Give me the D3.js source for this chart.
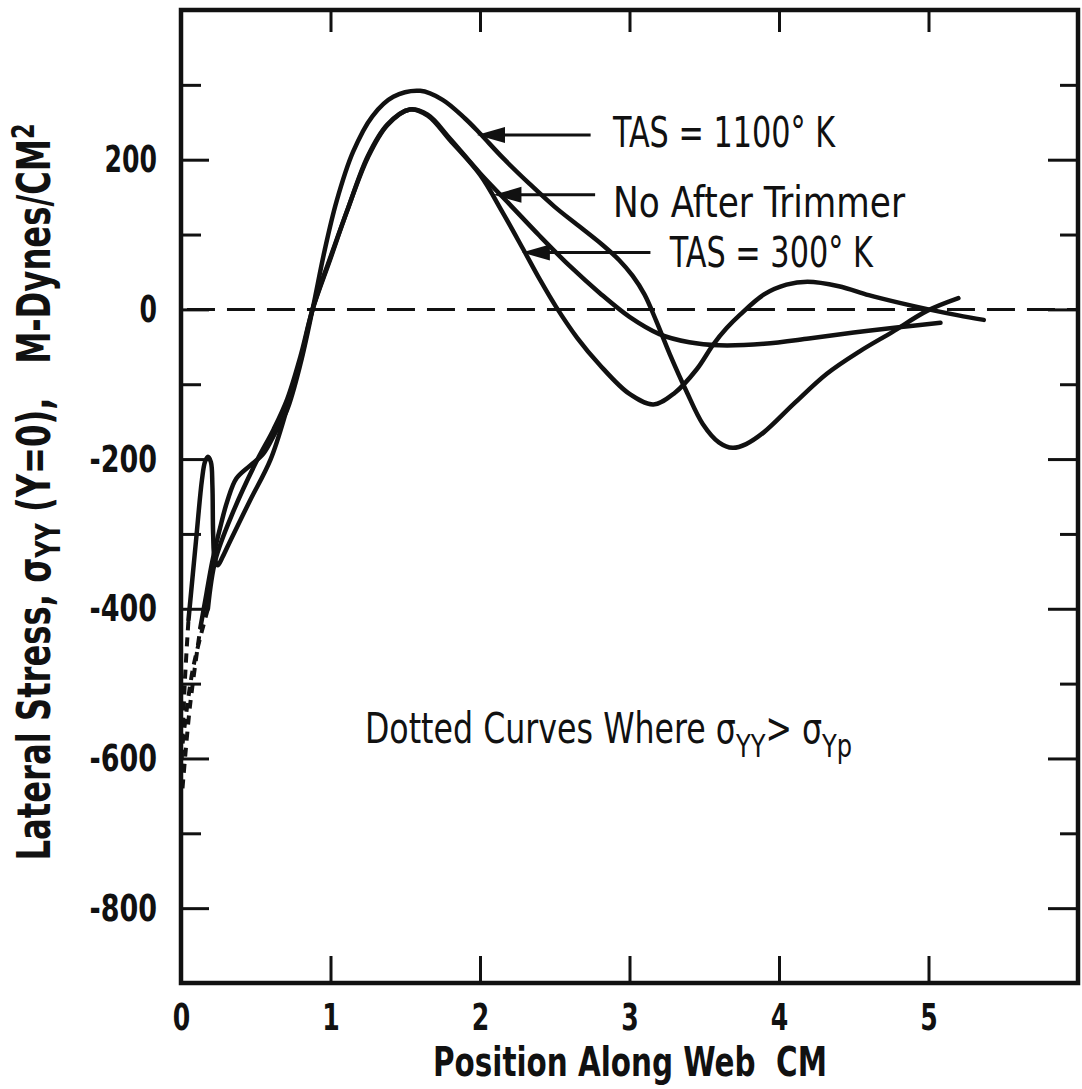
<!DOCTYPE html>
<html>
<head>
<meta charset="utf-8">
<script src="https://d3js.org/d3.v7.min.js"></script>
<style>
  body { margin: 0; background: #fff; }
  text { font-family: "Liberation Sans Narrow", "DejaVu Sans Condensed", "Roboto Condensed", sans-serif; font-stretch: condensed; fill: #111; }
</style>
</head>
<body>
<script>
// values (x in CM, y in M-Dynes/CM^2)
var xTicks = [0, 1, 2, 3, 4, 5];
var xMinorTop = [1, 2, 3, 4, 5];
var yMajor = [-800, -600, -400, -200, 0, 200];
var yMinor = [-700, -500, -300, -100, 100, 300];

var tas1100 = [[0.13,-425],[0.17,-380],[0.21,-336],[0.27,-285],[0.31,-256],[0.37,-226],[0.46,-209],[0.55,-193],[0.63,-165],[0.71,-134],[0.8,-72],[0.88,0],[0.96,78],[1.04,144],[1.15,210],[1.28,258],[1.42,284],[1.6,292],[1.75,280],[1.9,255],[2.0,235],[2.15,203],[2.33,168],[2.5,137],[2.67,110],[2.82,86],[2.93,66],[3.02,45],[3.1,20],[3.18,-16],[3.27,-60],[3.38,-109],[3.49,-153],[3.6,-178],[3.69,-185],[3.78,-180],[3.9,-164],[4.1,-126],[4.32,-86],[4.54,-56],[4.76,-30],[4.99,-2],[5.2,15]];
var tas1100Dot = [[0.01,-640],[0.06,-530],[0.13,-425]];

var noTrim = [[0.05,-415],[0.1,-310],[0.14,-228],[0.16,-204],[0.18,-197],[0.2,-204],[0.21,-235],[0.215,-300],[0.225,-333],[0.245,-342],[0.28,-330],[0.33,-309],[0.46,-256],[0.6,-200],[0.71,-132],[0.8,-68],[0.88,0],[1.0,70],[1.11,131],[1.25,205],[1.38,247],[1.53,267],[1.65,260],[1.8,228],[2.0,182],[2.2,140],[2.4,98],[2.6,58],[2.8,22],[3.0,-10],[3.2,-33],[3.4,-44],[3.6,-48],[3.9,-46],[4.2,-39],[4.5,-31],[4.8,-24],[5.08,-18]];
var noTrimDot = [[0.005,-600],[0.025,-500],[0.05,-415]];

var tas300 = [[0.18,-400],[0.23,-335],[0.35,-270],[0.5,-205],[0.62,-160],[0.71,-120],[0.8,-62],[0.88,0],[1.0,68],[1.11,131],[1.25,203],[1.38,246],[1.53,267],[1.65,259],[1.8,226],[2.0,180],[2.15,130],[2.29,80],[2.4,40],[2.51,3],[2.65,-38],[2.8,-74],[3.0,-113],[3.16,-127],[3.3,-112],[3.45,-80],[3.56,-47],[3.65,-25],[3.74,-7],[3.9,20],[4.05,33],[4.19,37],[4.4,31],[4.6,19],[4.8,9],[5.0,0],[5.2,-8],[5.37,-14]];
var tas300Dot = [[0.01,-580],[0.08,-480],[0.18,-400]];

// arrow labels: tip on the curve, tail, text position (data units)
var notes = [
  {label: "TAS = 1100° K", tip: [1.98, 233], tail: 2.74, tx: 2.89, ty: 217, len: 222},
  {label: "No After Trimmer", tip: [2.09, 153], tail: 2.77, tx: 2.89, ty: 124, len: 292},
  {label: "TAS = 300° K", tip: [2.28, 76], tail: 3.14, tx: 3.27, ty: 57, len: 203}
];

// "Dotted Curves Where ..." note: start, end (data x), baseline (data y), pieces (sub = subscript)
var dotStart = 1.23, dotEnd = 4.49, dotY = -579;
var dotParts = [
  {t: "Dotted Curves Where σ", sub: false},
  {t: "YY", sub: true},
  {t: "> σ", sub: false},
  {t: "Yp", sub: true}
];

var width = 1082, height = 1089;

var x = d3.scaleLinear().domain([0, 6]).range([181, 1078]);
var y = d3.scaleLinear().domain([-900, 400]).range([983, 10]);

var svg = d3.select("body").append("svg")
  .attr("width", width)
  .attr("height", height);

// zero line
svg.append("line")
  .attr("x1", x(0.04)).attr("x2", x(6))
  .attr("y1", y(0)).attr("y2", y(0))
  .attr("stroke", "#111").attr("stroke-width", 3)
  .attr("stroke-dasharray", "28,12");

// axes, ticks pointing inward
function styleAxis(g) {
  g.select(".domain").remove();
  g.selectAll(".tick line").attr("stroke", "#111").attr("stroke-width", 3);
  g.selectAll(".tick text")
    .attr("font-size", 38).attr("font-weight", "bold")
    .attr("lengthAdjust", "spacingAndGlyphs")
    .attr("textLength", function(d) {
      var s = String(d);
      return s.replace("-", "").length * 17.5 + (d < 0 ? 15 : 0);
    });
}
var plain = function(d) { return String(d); };

svg.append("g").attr("transform", "translate(" + x(0) + ",0)")
  .call(d3.axisLeft(y).tickValues(yMajor).tickSize(-28).tickPadding(24).tickFormat(plain))
  .call(styleAxis);
svg.append("g").attr("transform", "translate(" + x(0) + ",0)")
  .call(d3.axisLeft(y).tickValues(yMinor).tickSize(-20).tickFormat(""))
  .call(styleAxis);
svg.append("g").attr("transform", "translate(" + x(6) + ",0)")
  .call(d3.axisRight(y).tickValues(yMajor).tickSize(-30).tickFormat(""))
  .call(styleAxis);
svg.append("g").attr("transform", "translate(" + x(6) + ",0)")
  .call(d3.axisRight(y).tickValues(yMinor).tickSize(-18).tickFormat(""))
  .call(styleAxis);
svg.append("g").attr("transform", "translate(0," + y(-900) + ")")
  .call(d3.axisBottom(x).tickValues(xTicks).tickSize(-27).tickPadding(20).tickFormat(plain))
  .call(styleAxis);
svg.append("g").attr("transform", "translate(0," + y(400) + ")")
  .call(d3.axisTop(x).tickValues(xMinorTop).tickSize(-22).tickFormat(""))
  .call(styleAxis);

// frame
svg.append("rect")
  .attr("x", x(0)).attr("y", y(400))
  .attr("width", x(6) - x(0)).attr("height", y(-900) - y(400))
  .attr("fill", "none").attr("stroke", "#111").attr("stroke-width", 4.5);

var line = d3.line()
  .x(function(d) { return x(d[0]); })
  .y(function(d) { return y(d[1]); })
  .curve(d3.curveCatmullRom.alpha(0.5));

[tas1100, noTrim, tas300].forEach(function(s) {
  svg.append("path").attr("d", line(s))
    .attr("fill", "none").attr("stroke", "#111")
    .attr("stroke-width", 4.5).attr("stroke-linejoin", "round").attr("stroke-linecap", "round");
});
[tas1100Dot, noTrimDot, tas300Dot].forEach(function(s) {
  svg.append("path").attr("d", line(s))
    .attr("fill", "none").attr("stroke", "#111")
    .attr("stroke-width", 4).attr("stroke-dasharray", "9,7");
});

// arrows and labels
notes.forEach(function(n) {
  var tx = x(n.tip[0]), ty = y(n.tip[1]);
  svg.append("line")
    .attr("x1", tx + 20).attr("x2", x(n.tail))
    .attr("y1", ty).attr("y2", ty)
    .attr("stroke", "#111").attr("stroke-width", 3);
  svg.append("path")
    .attr("d", "M" + tx + "," + ty + "L" + (tx + 28) + "," + (ty - 8) + "L" + (tx + 28) + "," + (ty + 8) + "Z")
    .attr("fill", "#111");
  svg.append("text")
    .attr("x", x(n.tx)).attr("y", y(n.ty))
    .attr("font-size", 42)
    .attr("textLength", n.len).attr("lengthAdjust", "spacingAndGlyphs")
    .text(n.label);
});

// dotted curves note, one text with subscripts, squeezed with a scale
var dg = svg.append("g");
var dn = dg.append("text")
  .attr("x", 0).attr("y", 0)
  .attr("font-size", 42)
  .style("white-space", "pre");
var lowered = false;
dotParts.forEach(function(p) {
  var shift = 0;
  if (p.sub && !lowered) { shift = 14; lowered = true; }
  if (!p.sub && lowered) { shift = -14; lowered = false; }
  dn.append("tspan")
    .attr("dy", shift)
    .attr("font-size", p.sub ? 32 : 42)
    .text(p.t);
});
var natural = dn.node().getComputedTextLength() || 1;
var squeeze = (x(dotEnd) - x(dotStart)) / natural;
dg.attr("transform", "translate(" + x(dotStart) + "," + y(dotY) + ") scale(" + squeeze + ",1)");

// axis titles
svg.append("text")
  .attr("x", 630).attr("y", 1076)
  .attr("text-anchor", "middle")
  .attr("font-size", 40).attr("font-weight", "bold")
  .attr("textLength", 394).attr("lengthAdjust", "spacingAndGlyphs")
  .style("white-space", "pre")
  .text("Position Along Web  CM");

var yt = svg.append("text")
  .attr("transform", "translate(50,492) rotate(-90)")
  .attr("text-anchor", "middle")
  .attr("font-size", 46).attr("font-weight", "bold")
  .attr("textLength", 737).attr("lengthAdjust", "spacingAndGlyphs")
  .style("white-space", "pre");
yt.append("tspan").text("Lateral Stress, σ");
yt.append("tspan").attr("dy", 10).attr("font-size", 34).text("YY");
yt.append("tspan").attr("dy", -10).text(" (Y=0),   M-Dynes/CM");
yt.append("tspan").attr("dy", -16).attr("font-size", 32).text("2");
</script>
</body>
</html>
